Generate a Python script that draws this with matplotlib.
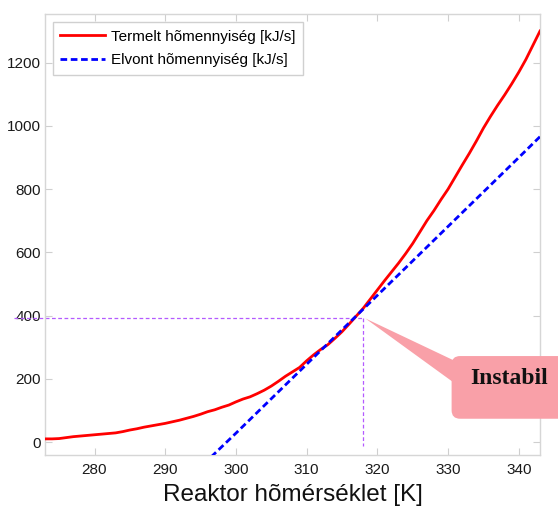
import matplotlib
matplotlib.use("Agg")
import matplotlib.pyplot as plt
from matplotlib.patches import FancyBboxPatch, Polygon

# Heat generated by the reaction [kJ/s] vs reactor temperature [K]
temp_gen = list(range(273, 344))
heat_gen = [10, 10, 11, 14, 17, 19, 21, 23, 25, 27,
            29, 33, 38, 42, 47, 51, 55, 59, 64, 69,
            75, 81, 88, 96, 102, 110, 117, 127, 136, 143,
            153, 164, 177, 192, 208, 222, 236, 257, 276, 293,
            308, 328, 349, 373, 398, 423, 452, 481, 510, 538,
            566, 596, 628, 664, 700, 732, 767, 800, 838, 876,
            913, 952, 993, 1030, 1065, 1098, 1133, 1170, 1210, 1255,
            1300]

# Heat removed by cooling [kJ/s]
temp_rem = [296.5, 300, 305, 310, 315, 320, 325, 330, 335, 340, 343]
heat_rem = [-47, 28, 137, 246, 355, 464, 573, 682, 791, 900, 966]

# Unstable operating point
op_temp = 318.0
op_heat = 392

x_ticks = [280, 290, 300, 310, 320, 330, 340]
y_ticks = [0, 200, 400, 600, 800, 1000, 1200]

label_gen = "Termelt hõmennyiség [kJ/s]"
label_rem = "Elvont hõmennyiség [kJ/s]"
x_label = "Reaktor hõmérséklet [K]"
callout_text = "Instabil"

plt.rcParams["font.family"] = ["Liberation Sans", "DejaVu Sans"]

fig = plt.figure(figsize=(5.58, 5.09), dpi=100)
ax = fig.add_axes([45 / 558, 54 / 509, 495 / 558, 440.7 / 509])

ax.plot(temp_gen, heat_gen, color="#ff0000", lw=2.0, label=label_gen, zorder=3)
ax.plot(temp_rem, heat_rem, color="#0000ff", lw=2.0, ls=(0, (2.4, 1.3)),
        label=label_rem, zorder=3)

ax.set_xlim(273, 343)
ax.set_ylim(-41, 1353)
ax.set_xticks(x_ticks)
ax.set_yticks(y_ticks)

# Dotted guide lines to the operating point
guide = dict(color="#b45aff", lw=0.9, ls=(0, (3, 2)), zorder=2)
ax.plot([268.6, op_temp], [op_heat, op_heat], clip_on=False, **guide)
ax.plot([op_temp, op_temp], [op_heat, -12], **guide)

for s in ax.spines.values():
    s.set_color("#d6d6d6")
    s.set_linewidth(1.0)
ax.tick_params(axis="both", direction="in", length=5, width=0.8,
               color="#cfcfcf", top=True, right=True,
               labelsize=11, labelcolor="#1a1a1a")
ax.tick_params(axis="x", pad=6)
ax.tick_params(axis="y", pad=3)

ax.set_xlabel(x_label, fontsize=17.5, color="#111111", labelpad=5)

leg = ax.legend(loc="upper left", fontsize=11, handlelength=2.9,
                handletextpad=0.4, borderpad=0.5, labelspacing=0.62,
                borderaxespad=0.5, fancybox=False, framealpha=1)
leg.get_frame().set_edgecolor("#d0d0d0")
leg.get_frame().set_linewidth(1.0)

# Callout pointing at the unstable intersection
pink = "#f9a0a8"
ax.add_patch(Polygon([(op_temp + 0.3, op_heat - 1), (331.3, 253), (331.3, 180)],
                     closed=True, fc=pink, ec="none", clip_on=False, zorder=4))
ax.add_patch(FancyBboxPatch((330.5, 73.7), 16.5, 198.3,
                            boxstyle="round,pad=0,rounding_size=1.2",
                            mutation_aspect=22.2, fc=pink, ec="none",
                            clip_on=False, zorder=4))
ax.text(338.6, 201, callout_text, family=["Liberation Serif"], fontweight="bold",
        fontsize=17, ha="center", va="center", color="#111111", zorder=5)

fig.savefig("out.png", dpi=100)
